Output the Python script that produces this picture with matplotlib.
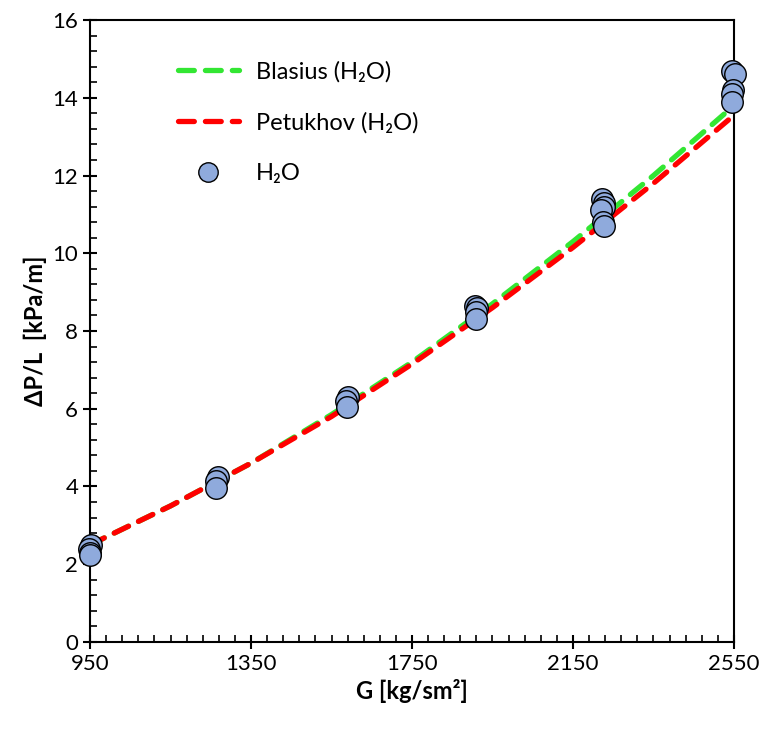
import matplotlib.pyplot as plt
from matplotlib.ticker import FixedLocator

plt.rcParams['font.family'] = ['Lato', 'DejaVu Sans']

# measured points, H2O
g_pts = [952, 948, 950, 951,
         1268, 1262, 1264,
         1590, 1586, 1588,
         1906, 1912, 1908, 1910,
         2222, 2226, 2228, 2220, 2224, 2226,
         2545, 2552, 2548, 2544, 2546]
dp_pts = [2.5, 2.4, 2.3, 2.25,
          4.25, 4.15, 3.95,
          6.3, 6.2, 6.05,
          8.65, 8.6, 8.5, 8.3,
          11.4, 11.3, 11.2, 11.1, 10.8, 10.7,
          14.7, 14.6, 14.2, 14.1, 13.9]

# correlation curves
g_line = [950, 1150, 1350, 1550, 1750, 1950, 2150, 2350, 2550]
blasius = [2.5, 3.5, 4.6, 5.85, 7.2, 8.7, 10.3, 12.0, 13.8]
petukhov = [2.5, 3.5, 4.6, 5.8, 7.15, 8.6, 10.15, 11.8, 13.55]

x_ticks = [950, 1350, 1750, 2150, 2550]
y_ticks = [0, 2, 4, 6, 8, 10, 12, 14, 16]

fig = plt.figure(figsize=(7.74, 7.31), dpi=100)
ax = fig.add_axes([0.1163, 0.1218, 0.8320, 0.8508])

ax.plot(g_line, blasius, color='#33e633', lw=3.8, ls=(0, (3.0, 2.1)),
        dash_capstyle='round', label='Blasius (H\u2082O)', zorder=2)
ax.plot(g_line, petukhov, color='#ff0000', lw=3.8, ls=(0, (3.0, 2.1)),
        dash_capstyle='round', label='Petukhov (H\u2082O)', zorder=3)
ax.plot(g_pts, dp_pts, 'o', ms=15.5, mfc='#8faadc', mec='black', mew=1.0,
        label='H\u2082O', zorder=4, clip_on=False)

ax.set_xlim(950, 2550)
ax.set_ylim(0, 16)
ax.xaxis.set_major_locator(FixedLocator(x_ticks))
ax.xaxis.set_minor_locator(FixedLocator([950 + 40 * i for i in range(41)]))
ax.yaxis.set_major_locator(FixedLocator(y_ticks))
ax.yaxis.set_minor_locator(FixedLocator([0.4 * i for i in range(41)]))
ax.tick_params(which='major', direction='inout', length=10, width=1.5, labelsize=16)
ax.tick_params(which='minor', direction='in', length=5, width=1.2)
for s in ax.spines.values():
    s.set_linewidth(1.5)

ax.set_xlabel('G [kg/sm\u00b2]', fontsize=17, fontweight='bold', labelpad=4)
ax.set_ylabel('\u0394P/L  [kPa/m]', fontsize=17, fontweight='bold', labelpad=4)

leg = ax.legend(loc='upper left', bbox_to_anchor=(0.103, 0.968), frameon=False,
                fontsize=17, handlelength=2.6, labelspacing=1.25, handletextpad=0.7)
leg.legend_handles[2].set_markersize(14)

fig.savefig('out.png', dpi=100)
